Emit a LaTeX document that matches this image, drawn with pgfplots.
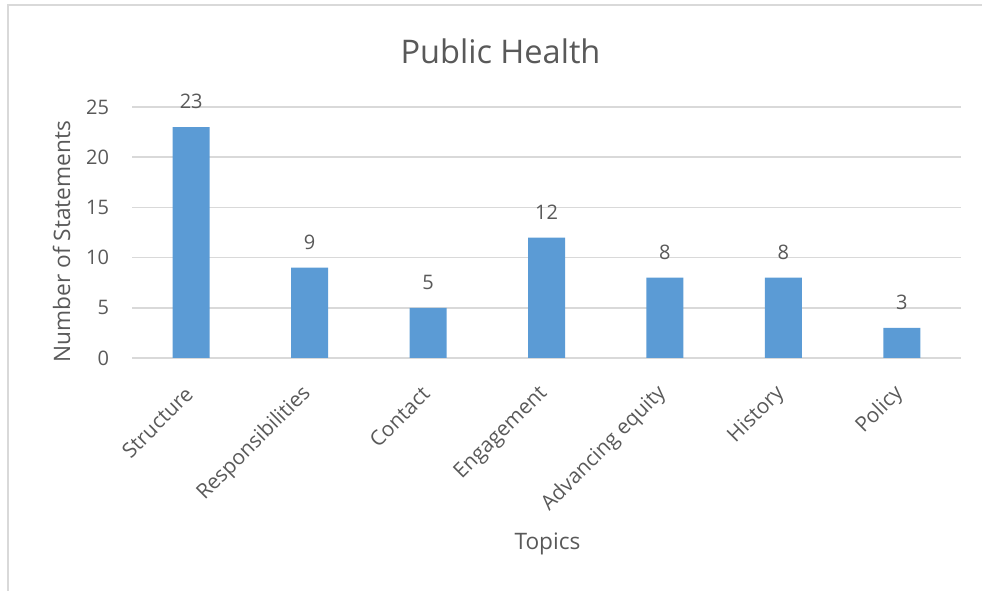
\documentclass[border=0pt]{standalone}
\usepackage{fontspec}
\setmainfont{Open Sans}
\usepackage{pgfplots}
\pgfplotsset{compat=1.18}
\definecolor{barblue}{HTML}{5B9BD5}
\definecolor{txtgray}{HTML}{595959}
\definecolor{gridgray}{HTML}{D9D9D9}
\newcommand{\tickfont}{\fontsize{15}{18}\selectfont}
\newcommand{\catfont}{\fontsize{15.6}{18}\selectfont}

\begin{document}
\begin{tikzpicture}[x=0.75pt,y=0.75pt]
\useasboundingbox (0,0) rectangle (982,591);
% chart frame (top and left edges)
\draw[gridgray, line width=1.5pt] (8,0) -- (8,586) -- (982,586);
\begin{axis}[
  at={(99pt,174.75pt)}, anchor=south west,
  scale only axis, width=621.75pt, height=188.25pt,
  xmin=-0.5, xmax=6.5, ymin=0, ymax=25,
  ytick={0,5,10,15,20,25},
  xtick={0,...,6},
  xticklabels={Structure,Responsibilities,Contact,Engagement,Advancing equity,History,Policy},
  axis line style={draw=none},
  major tick style={draw=none},
  ymajorgrids, grid style={gridgray, line width=1.1pt},
  /pgf/number format/assume math mode=true,
  tick label style={font=\tickfont, text=txtgray},
  yticklabel style={anchor=east, inner sep=0pt},
  yticklabel shift=17pt,
  xticklabel style={font=\catfont, inner sep=0pt, anchor=east, xshift=-1.5pt, rotate=45},
  xticklabel shift=20pt,
  ybar, bar width=27.75pt,
  clip=false,
  nodes near coords,
  every node near coord/.append style={font=\tickfont, text=txtgray, anchor=south, inner sep=0pt, yshift=13.5pt},
]
\addplot[fill=barblue, draw=none] coordinates {
  (0,23) (1,9) (2,5) (3,12) (4,8) (5,8) (6,3)
};
\end{axis}
\node[anchor=base, font=\fontsize{24.4}{28}\selectfont, text=txtgray] at (500.5,527) {Public Health};
\node[anchor=base, font=\fontsize{17}{20}\selectfont, text=txtgray] at (547.5,41) {Topics};
\node[anchor=base, rotate=90, font=\fontsize{17}{20}\selectfont, text=txtgray] at (70,349.5) {Number of Statements};
\end{tikzpicture}
\end{document}
